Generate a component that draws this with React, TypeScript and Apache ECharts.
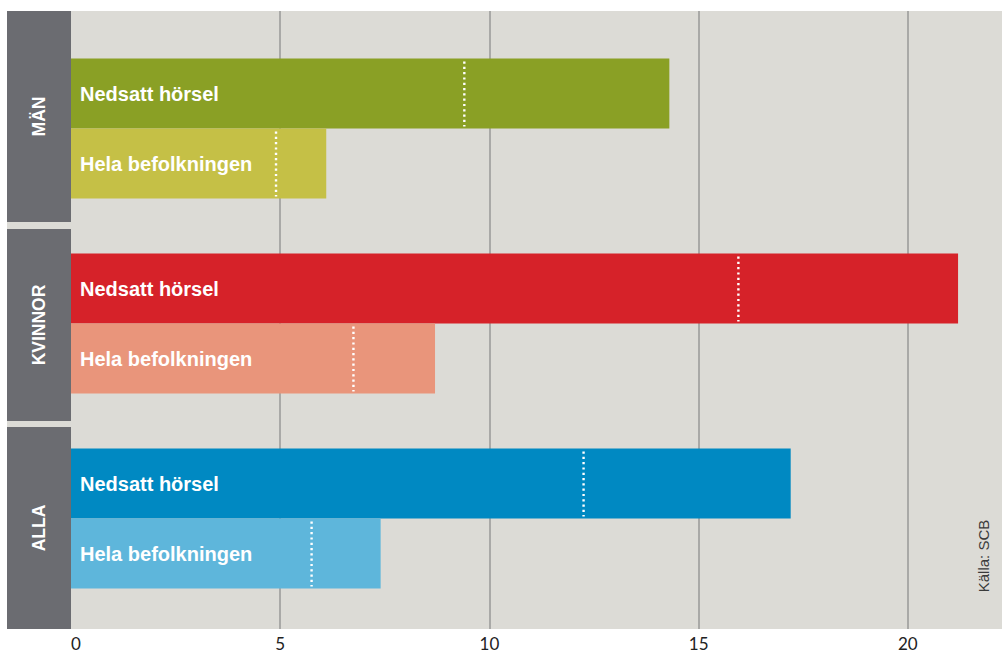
import React, { useEffect, useRef } from "react";
import * as echarts from "echarts";

// ---- data ----
const groups = ["MÄN", "KVINNOR", "ALLA"];
const seriesNames = ["Nedsatt hörsel", "Hela befolkningen"];
const nedsattValues = [14.3, 21.2, 17.2];
const helaValues = [6.1, 8.7, 7.4];
const nedsattMarkers = [9.4, 15.95, 12.25];
const helaMarkers = [4.9, 6.75, 5.75];
const xTicks = [0, 5, 10, 15, 20];
const sourceText = "Källa: SCB";

// ---- styles ----
const nedsattColors = ["#8aa025", "#d62229", "#0089c2"];
const helaColors = ["#c5c046", "#e9957b", "#5eb6db"];
const BG = "#dcdbd6";
const PANEL = "#6b6c71";
const GRIDLINE = "#a9a9a7";

// ---- layout ----
const W = 1002;
const H = 656;
const PLOT_LEFT = 71;
const PLOT_TOP = 11;
const PLOT_BOTTOM = 629;
const PANEL_X = 7;
const PANEL_W = 64;
const panelSpans = [
  [11, 222],
  [229, 421],
  [427, 629],
];
const BAR_W = 70;
const X_MAX = 22.25;

export default function App() {
  const ref = useRef<HTMLDivElement>(null);

  useEffect(() => {
    if (!ref.current) return;
    const chart = echarts.init(ref.current, undefined, { renderer: "svg" });

    const labelStyle = {
      show: true,
      position: "insideLeft" as const,
      distance: 9,
      color: "#ffffff",
      fontFamily: "Liberation Sans",
      fontWeight: "bold" as const,
      fontSize: 20,
    };

    const markerData = [
      ...nedsattMarkers.map((v, i) => [v, i, 0]),
      ...helaMarkers.map((v, i) => [v, i, 1]),
    ];

    const graphics: any[] = [
      {
        type: "rect",
        z: -10,
        silent: true,
        shape: { x: PANEL_X, y: PLOT_TOP, width: W - PANEL_X, height: PLOT_BOTTOM - PLOT_TOP },
        style: { fill: BG },
      },
    ];
    groups.forEach((g, i) => {
      const [y0, y1] = panelSpans[i];
      graphics.push({
        type: "rect",
        z: 5,
        shape: { x: PANEL_X, y: y0, width: PANEL_W, height: y1 - y0 },
        style: { fill: PANEL },
      });
      graphics.push({
        type: "text",
        z: 6,
        x: PANEL_X + PANEL_W / 2,
        y: (y0 + y1) / 2,
        rotation: Math.PI / 2,
        style: {
          text: g,
          fill: "#ffffff",
          font: "bold 17.5px 'Liberation Sans'",
          align: "center",
          verticalAlign: "middle",
        },
      });
    });
    graphics.push({
      type: "text",
      z: 6,
      x: 983,
      y: 556,
      rotation: Math.PI / 2,
      style: {
        text: sourceText,
        fill: "#3a3a3a",
        font: "15px 'Liberation Sans'",
        align: "center",
        verticalAlign: "middle",
      },
    });

    chart.setOption({
      animation: false,
      grid: [
        { left: PLOT_LEFT, right: 0, top: PLOT_TOP, bottom: H - PLOT_BOTTOM },
        { left: PLOT_LEFT, right: 0, top: 31, bottom: H - 616 },
      ],
      xAxis: [
        {
          gridIndex: 0,
          type: "value",
          min: 0,
          max: X_MAX,
          interval: 5,
          axisLine: { show: false },
          axisTick: { show: false },
          splitLine: {
            show: true,
            showMinLine: false,
            showMaxLine: false,
            lineStyle: { color: GRIDLINE, width: 2 },
          },
          axisLabel: {
            margin: 6,
            color: "#222222",
            fontFamily: "Lato",
            fontSize: 17,
            showMaxLabel: false,
            alignMinLabel: "left",
            formatter: (v: number) => (xTicks.includes(v) ? String(v) : ""),
          },
        },
        { gridIndex: 1, type: "value", min: 0, max: X_MAX, show: false },
      ],
      yAxis: [
        { gridIndex: 0, type: "category", data: groups, show: false },
        { gridIndex: 1, type: "category", data: groups, inverse: true, show: false },
      ],
      graphic: graphics,
      series: [
        {
          type: "bar",
          name: seriesNames[0],
          xAxisIndex: 1,
          yAxisIndex: 1,
          barWidth: BAR_W,
          barGap: "0%",
          data: nedsattValues.map((v, i) => ({ value: v, itemStyle: { color: nedsattColors[i] } })),
          label: { ...labelStyle, formatter: seriesNames[0] },
        },
        {
          type: "bar",
          name: seriesNames[1],
          xAxisIndex: 1,
          yAxisIndex: 1,
          barWidth: BAR_W,
          barGap: "0%",
          data: helaValues.map((v, i) => ({ value: v, itemStyle: { color: helaColors[i] } })),
          label: { ...labelStyle, formatter: seriesNames[1] },
        },
        {
          type: "custom",
          xAxisIndex: 1,
          yAxisIndex: 1,
          z: 4,
          silent: true,
          encode: { x: 0, y: 1 },
          data: markerData,
          renderItem: (_params: any, api: any) => {
            const p = api.coord([api.value(0), api.value(1)]);
            const s = api.value(2);
            const half = BAR_W / 2;
            const cy = p[1] + (s === 0 ? -half : half);
            return {
              type: "line",
              shape: { x1: p[0], y1: cy - half + 3, x2: p[0], y2: cy + half - 2 },
              style: { stroke: "#ffffff", lineWidth: 2.4, lineDash: [2.2, 3.1] },
            };
          },
        },
      ],
    });

    return () => chart.dispose();
  }, []);

  return (
    <div
      ref={ref}
      style={{ position: "absolute", left: 0, top: 0, width: W, height: H, background: "#ffffff" }}
    />
  );
}
